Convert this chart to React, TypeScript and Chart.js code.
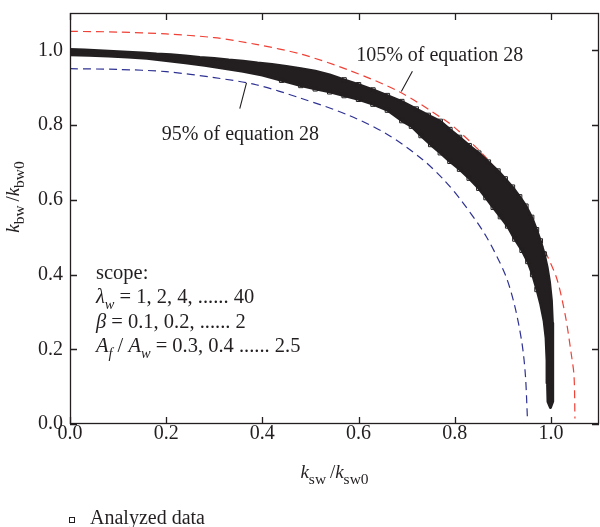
import { useEffect, useRef } from 'react';
import { Chart, registerables } from 'chart.js';

Chart.register(...registerables);

const INK = '#231f20';
const RED = '#ef4136';
const BLUE = '#2e3192';
const SERIF = "'Liberation Serif', 'Times New Roman', serif";

const X_TICKS = [0, 0.2, 0.4, 0.6, 0.8, 1.0];
const Y_TICKS = [0, 0.2, 0.4, 0.6, 0.8, 1.0];

// 105% of equation 28
const RED_X = [0, 0.1, 0.2, 0.3, 0.387, 0.48, 0.58, 0.685, 0.78, 0.81, 0.86, 0.913, 0.954, 0.985, 1.012, 1.03, 1.042, 1.048, 1.05];
const RED_Y = [1.051, 1.049, 1.044, 1.034, 1.016, 0.99, 0.947, 0.889, 0.813, 0.782, 0.72, 0.639, 0.55, 0.47, 0.39, 0.29, 0.19, 0.13, 0.015];

// 95% of equation 28
const BLUE_X = [0, 0.1, 0.2, 0.3, 0.387, 0.48, 0.58, 0.66, 0.733, 0.78, 0.816, 0.864, 0.905, 0.925, 0.94, 0.947, 0.951];
const BLUE_Y = [0.951, 0.949, 0.943, 0.927, 0.908, 0.872, 0.826, 0.775, 0.708, 0.65, 0.594, 0.505, 0.4, 0.315, 0.215, 0.13, 0.02];

// Analyzed data: upper edge of the point cloud
const UPPER_X = [0, 0.03, 0.06, 0.09, 0.12, 0.15, 0.18, 0.21, 0.24, 0.27, 0.3, 0.33, 0.36, 0.39, 0.42, 0.45, 0.48, 0.51, 0.54, 0.57, 0.6, 0.63, 0.66, 0.69, 0.72, 0.745, 0.77, 0.79, 0.81, 0.83, 0.85, 0.87, 0.89, 0.905, 0.92, 0.935, 0.948, 0.96, 0.97, 0.978, 0.986, 0.992, 0.997, 1.001, 1.003, 1.004, 1.004, 1.003];
const UPPER_Y = [1.002, 1.001, 0.999, 0.997, 0.995, 0.993, 0.99, 0.988, 0.985, 0.981, 0.978, 0.974, 0.971, 0.966, 0.962, 0.957, 0.951, 0.944, 0.934, 0.921, 0.908, 0.894, 0.879, 0.863, 0.843, 0.826, 0.81, 0.788, 0.767, 0.745, 0.725, 0.701, 0.677, 0.656, 0.634, 0.608, 0.583, 0.553, 0.52, 0.49, 0.455, 0.42, 0.38, 0.33, 0.27, 0.2, 0.13, 0.06];

// Analyzed data: lower edge of the point cloud
const LOWER_X = [0, 0.04, 0.08, 0.12, 0.16, 0.2, 0.24, 0.28, 0.32, 0.36, 0.4, 0.44, 0.48, 0.51, 0.54, 0.57, 0.6, 0.63, 0.66, 0.69, 0.71, 0.73, 0.75, 0.77, 0.79, 0.81, 0.83, 0.85, 0.865, 0.88, 0.895, 0.91, 0.925, 0.94, 0.952, 0.962, 0.971, 0.979, 0.986, 0.99, 0.992, 0.993, 0.994, 0.999];
const LOWER_Y = [0.988, 0.987, 0.985, 0.982, 0.979, 0.973, 0.967, 0.96, 0.952, 0.944, 0.934, 0.92, 0.906, 0.897, 0.889, 0.879, 0.869, 0.856, 0.84, 0.812, 0.797, 0.772, 0.748, 0.726, 0.703, 0.682, 0.658, 0.631, 0.606, 0.58, 0.555, 0.53, 0.495, 0.465, 0.435, 0.4, 0.36, 0.32, 0.275, 0.23, 0.17, 0.11, 0.06, 0.044];

const pts = (xs: number[], ys: number[]) => xs.map((x, i) => ({ x, y: ys[i] }));

type Run = { t: string; i?: boolean; sub?: boolean };

function drawRuns(
  ctx: CanvasRenderingContext2D,
  runs: Run[],
  x: number,
  y: number,
  size = 20,
  doDraw = true,
  subSize = 14.4,
  subDrop = 5.6
) {
  let cx = x;
  for (const r of runs) {
    const s = r.sub ? subSize : size;
    ctx.font = `${r.i ? 'italic ' : ''}${s}px ${SERIF}`;
    if (doDraw) ctx.fillText(r.t, cx, y + (r.sub ? subDrop : 0));
    cx += ctx.measureText(r.t).width;
  }
  return cx - x;
}

const decor = {
  id: 'decor',
  afterDatasetsDraw(chart: any) {
    const { ctx, chartArea: a, scales } = chart;
    const xs = scales.x;
    const ys = scales.y;
    const px = (v: number) => xs.getPixelForValue(v);
    const py = (v: number) => ys.getPixelForValue(v);
    ctx.save();
    ctx.strokeStyle = INK;
    ctx.lineWidth = 1.3;
    ctx.strokeRect(a.left + 0.5, a.top + 0.5, a.right - a.left - 1, a.bottom - a.top - 1);
    ctx.beginPath();
    X_TICKS.forEach((v) => {
      const p = Math.round(px(v)) + 0.5;
      ctx.moveTo(p, a.bottom);
      ctx.lineTo(p, a.bottom - 7);
      ctx.moveTo(p, a.top);
      ctx.lineTo(p, a.top + 7);
    });
    Y_TICKS.forEach((v) => {
      const p = Math.round(py(v)) + 0.5;
      ctx.moveTo(a.left, p);
      ctx.lineTo(a.left + 7, p);
      ctx.moveTo(a.right, p);
      ctx.lineTo(a.right - 7, p);
    });
    ctx.stroke();

    // leader lines
    ctx.lineWidth = 1.1;
    ctx.beginPath();
    ctx.moveTo(px(0.712), py(0.944));
    ctx.lineTo(px(0.689), py(0.89));
    ctx.moveTo(px(0.367), py(0.913));
    ctx.lineTo(px(0.353), py(0.844));
    ctx.stroke();

    ctx.fillStyle = INK;
    ctx.textBaseline = 'alphabetic';
    ctx.textAlign = 'left';
    drawRuns(ctx, [{ t: '105% of equation 28' }], px(0.595), py(0.971), 20);
    drawRuns(ctx, [{ t: '95% of equation 28' }], px(0.191), py(0.759), 20);

    const sx = px(0.054);
    const sz = 20.5;
    drawRuns(ctx, [{ t: 'scope:' }], sx, 279, sz);
    drawRuns(ctx, [{ t: 'λ', i: true }, { t: 'w', i: true, sub: true }, { t: ' = 1, 2, 4, ...... 40' }], sx, 303, sz);
    drawRuns(ctx, [{ t: 'β', i: true }, { t: ' = 0.1, 0.2, ...... 2' }], sx, 328, sz);
    drawRuns(
      ctx,
      [
        { t: 'A', i: true },
        { t: 'f', i: true, sub: true },
        { t: ' / ' },
        { t: 'A', i: true },
        { t: 'w', i: true, sub: true },
        { t: ' = 0.3, 0.4 ...... 2.5' },
      ],
      sx,
      352,
      sz
    );

    // axis titles
    const xt: Run[] = [{ t: 'k', i: true }, { t: 'sw', sub: true }, { t: '\u2009/' }, { t: 'k', i: true }, { t: 'sw0', sub: true }];
    const wx = drawRuns(ctx, xt, 0, 0, 19, false, 15.5, 6);
    drawRuns(ctx, xt, (a.left + a.right) / 2 - wx / 2, 478, 19, true, 15.5, 6);

    const yt: Run[] = [{ t: 'k', i: true }, { t: 'bw', sub: true }, { t: '\u2009/' }, { t: 'k', i: true }, { t: 'bw0', sub: true }];
    const wy = drawRuns(ctx, yt, 0, 0, 19, false, 15.5, 5);
    ctx.save();
    ctx.translate(19, 197);
    ctx.rotate(-Math.PI / 2);
    drawRuns(ctx, yt, -wy / 2, 0, 19, true, 15.5, 5);
    ctx.restore();

    // legend
    ctx.lineWidth = 1;
    ctx.strokeStyle = INK;
    ctx.fillStyle = '#fff';
    ctx.fillRect(70, 518, 4, 4);
    ctx.strokeRect(69.5, 517.5, 5, 5);
    ctx.fillStyle = INK;
    drawRuns(ctx, [{ t: 'Analyzed data' }], 90, 524, 20);
    ctx.restore();
  },
};

export default function App() {
  const ref = useRef<HTMLCanvasElement>(null);
  useEffect(() => {
    const upper = pts(UPPER_X, UPPER_Y);
    const lower = pts(LOWER_X, LOWER_Y);
    const polygon = [...upper, ...lower.slice().reverse()];
    // hollow markers are only visible where the cloud's edge is ragged
    const markers = [
      ...upper.filter((p) => p.x >= 0.55 && p.x <= 0.99),
      ...lower.filter((p) => p.x >= 0.42 && p.x <= 0.975),
    ];
    const chart = new Chart(ref.current as HTMLCanvasElement, {
      type: 'scatter',
      data: {
        datasets: [
          {
            label: 'Analyzed data',
            data: markers,
            pointStyle: 'rect',
            pointRadius: 3.1,
            borderWidth: 1,
            borderColor: INK,
            backgroundColor: 'rgba(255,255,255,0)',
            showLine: false,
          },
          {
            label: 'band',
            data: polygon,
            showLine: true,
            fill: 'shape',
            backgroundColor: INK,
            borderColor: INK,
            borderWidth: 3,
            borderJoinStyle: 'round',
            pointRadius: 0,
            tension: 0,
          } as any,
          {
            label: '105% of equation 28',
            data: pts(RED_X, RED_Y),
            showLine: true,
            borderColor: RED,
            borderWidth: 1.2,
            borderDash: [8, 5],
            pointRadius: 0,
            tension: 0.3,
          },
          {
            label: '95% of equation 28',
            data: pts(BLUE_X, BLUE_Y),
            showLine: true,
            borderColor: BLUE,
            borderWidth: 1.2,
            borderDash: [8, 5],
            pointRadius: 0,
            tension: 0.3,
          },
        ],
      },
      options: {
        animation: false,
        responsive: false,
        devicePixelRatio: 1,
        layout: { autoPadding: false, padding: { top: 13, right: 1, left: 0, bottom: 0 } },
        plugins: { legend: { display: false }, tooltip: { enabled: false } },
        scales: {
          x: {
            type: 'linear',
            min: 0,
            max: 1.1,
            grid: { display: false, drawTicks: false },
            border: { display: false },
            ticks: {
              stepSize: 0.2,
              includeBounds: false,
              padding: 0,
              color: INK,
              font: { family: SERIF, size: 20, lineHeight: 1 },
              callback: (v: any) => Number(v).toFixed(1),
            },
            afterFit: (s: any) => {
              s.height = 103;
              s.paddingLeft = 0;
              s.paddingRight = 0;
            },
          },
          y: {
            type: 'linear',
            min: 0,
            max: 1.1,
            grid: { display: false, drawTicks: false },
            border: { display: false },
            ticks: {
              stepSize: 0.2,
              includeBounds: false,
              padding: 7,
              color: INK,
              font: { family: SERIF, size: 20, lineHeight: 1 },
              callback: (v: any) => Number(v).toFixed(1),
            },
            afterFit: (s: any) => {
              s.width = 70;
              s.paddingTop = 0;
              s.paddingBottom = 0;
            },
          },
        },
      } as any,
      plugins: [decor],
    });
    return () => chart.destroy();
  }, []);
  return (
    <div style={{ position: 'absolute', left: 0, top: 0, width: 600, height: 527, background: '#fff' }}>
      <canvas ref={ref} width={600} height={527} style={{ display: 'block' }} />
    </div>
  );
}
